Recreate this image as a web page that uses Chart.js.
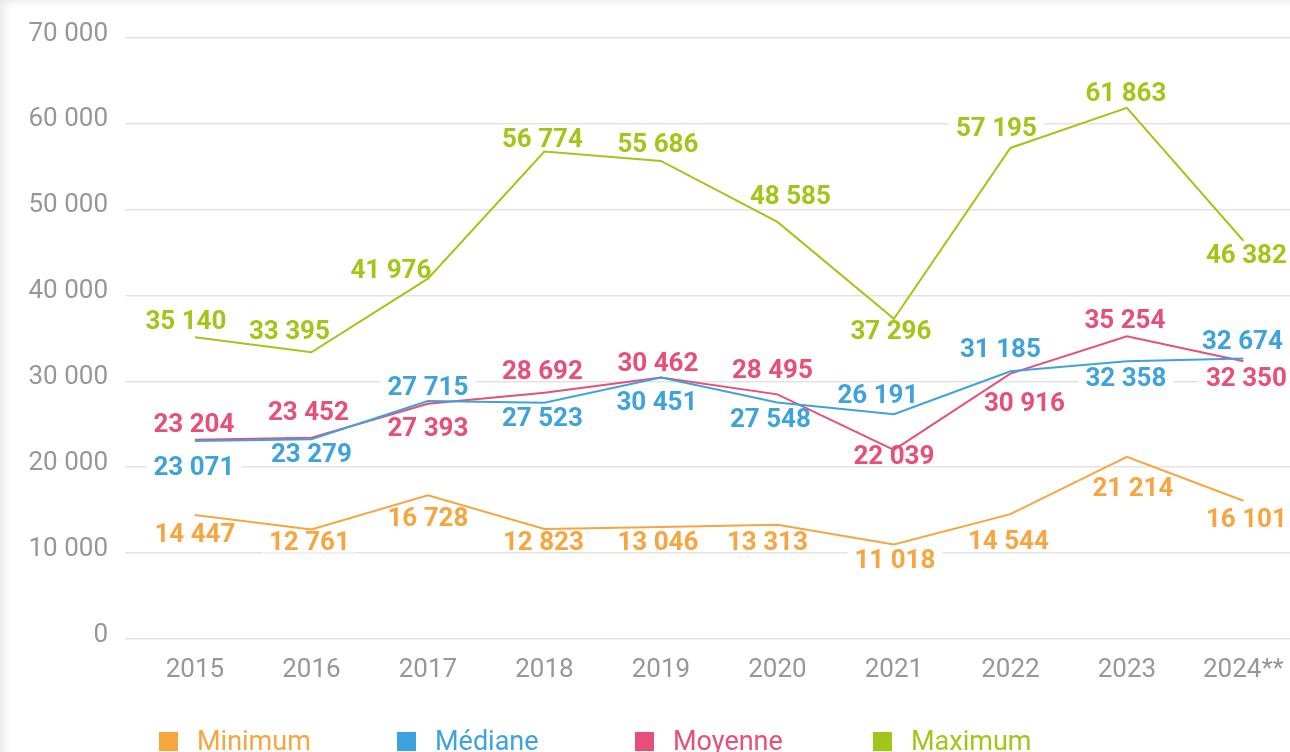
<!DOCTYPE html>
<html>
<head>
<meta charset="utf-8">
<script src="https://cdn.jsdelivr.net/npm/chart.js@4.4.1/dist/chart.umd.min.js"></script>
<style>
  html, body { margin: 0; padding: 0; background: #fff; }
  #wrap { position: relative; width: 1290px; height: 752px; overflow: hidden; }
  #shade { position: absolute; left: 0; top: 0; width: 1290px; height: 752px; pointer-events: none;
           box-shadow: inset 10px 7px 10px -6px rgba(0,0,0,0.10); }
  canvas { display: block; }
</style>
</head>
<body>
<div id="wrap">
<canvas id="c" width="1290" height="752"></canvas>
<div id="shade"></div>
</div>
<script>
// ---- data ----
const categories = ['2015', '2016', '2017', '2018', '2019', '2020', '2021', '2022', '2023', '2024**'];
const seriesNames = ['Minimum', 'Médiane', 'Moyenne', 'Maximum'];
const minimum = [14447, 12761, 16728, 12823, 13046, 13313, 11018, 14544, 21214, 16101];
const mediane = [23071, 23279, 27715, 27523, 30451, 27548, 26191, 31185, 32358, 32674];
const moyenne = [23204, 23452, 27393, 28692, 30462, 28495, 22039, 30916, 35254, 32350];
const maximum = [35140, 33395, 41976, 56774, 55686, 48585, 37296, 57195, 61863, 46382];
const yTickValues = [0, 10000, 20000, 30000, 40000, 50000, 60000, 70000];

// ---- styles ----
const colors = ['#F6A53F', '#3EA3DC', '#E84F78', '#A2C617'];
// label placement relative to each point (pixels)
const labelShift = [
  { dx: [0, -2, 0, -1, -3, -10, 1, -2, 6, 3],      dy: [18, 12, 22, 12, 14, 16, 15, 26, 30, 17] },
  { dx: [-1, 0, 0, -2, -4, -7, -16, -10, -1, -1],  dy: [25, 14, -15, 14, 23, 16, -20, -23, 16, -18] },
  { dx: [-1, -3, 0, -2, -3, -5, 0, 14, -2, 3],     dy: [-17, -27, 23, -23, -15, -25, 5, 28, -17, 16] },
  { dx: [-9, -22, -37, -2, -3, 13, -3, -14, -1, 3], dy: [-17, -22, -10, -14, -18, -27, 11, -21, -16, 13] }
];

const fmt = v => String(v).replace(/\B(?=(\d{3})+(?!\d))/g, ' ');
const allSeries = [minimum, mediane, moyenne, maximum];

Chart.defaults.font.family = 'Roboto';

const LABEL_FONT = 'bold 26px Roboto';

function forEachLabel(chart, cb) {
  chart.data.datasets.forEach((ds, si) => {
    const meta = chart.getDatasetMeta(si);
    meta.data.forEach((pt, i) => {
      const text = fmt(ds.data[i].y);
      const x = pt.x + labelShift[si].dx[i];
      const y = pt.y + labelShift[si].dy[i];
      cb(ds, si, text, x, y);
    });
  });
}

const labelPlugin = {
  id: 'valueLabels',
  beforeDatasetsDraw(chart) {
    const ctx = chart.ctx;
    ctx.save();
    ctx.font = LABEL_FONT;
    ctx.fillStyle = '#ffffff';
    forEachLabel(chart, (ds, si, text, x, y) => {
      const w = ctx.measureText(text).width + 14;
      ctx.fillRect(x - w / 2, y - 11, w, 22);
    });
    ctx.restore();
  },
  afterDatasetsDraw(chart) {
    const ctx = chart.ctx;
    ctx.save();
    ctx.font = LABEL_FONT;
    ctx.textAlign = 'center';
    ctx.textBaseline = 'alphabetic';
    forEachLabel(chart, (ds, si, text, x, y) => {
      ctx.fillStyle = ds.borderColor;
      ctx.fillText(text, x, y + 9);
    });
    ctx.restore();
  }
};

const legendPlugin = {
  id: 'customLegend',
  afterDraw(chart) {
    const ctx = chart.ctx;
    ctx.save();
    ctx.font = '400 27px Roboto';
    ctx.textBaseline = 'alphabetic';
    ctx.textAlign = 'left';
    chart.data.datasets.forEach((ds, i) => {
      const bx = 159 + i * 238;
      ctx.fillStyle = ds.borderColor;
      ctx.fillRect(bx, 732, 19, 19);
      ctx.fillText(ds.label, bx + 38, 750);
    });
    ctx.restore();
  }
};

const datasets = allSeries.map((vals, si) => ({
  label: seriesNames[si],
  data: vals.map((v, i) => ({ x: i, y: v })),
  borderColor: colors[si],
  backgroundColor: colors[si],
  borderWidth: 2,
  pointRadius: 0,
  pointHoverRadius: 0,
  tension: 0,
  fill: false
}));

new Chart(document.getElementById('c'), {
  type: 'line',
  data: { datasets },
  plugins: [labelPlugin, legendPlugin],
  options: {
    responsive: false,
    devicePixelRatio: 1,
    animation: false,
    layout: { padding: { top: 38, right: 0, bottom: 0, left: 0 } },
    plugins: { legend: { display: false }, tooltip: { enabled: false } },
    scales: {
      x: {
        type: 'linear',
        min: -0.6,
        max: 9.4,
        afterBuildTicks: s => { s.ticks = categories.map((_, i) => ({ value: i })); },
        afterFit: s => { s.height = 113; s.paddingLeft = 0; s.paddingRight = 0; },
        grid: { display: false, drawTicks: false },
        border: { display: false },
        ticks: {
          callback: v => categories[v],
          color: '#979797',
          font: { size: 26, family: 'Roboto' },
          padding: 16,
          maxRotation: 0,
          autoSkip: false
        }
      },
      y: {
        min: 0,
        max: 70000,
        afterBuildTicks: s => { s.ticks = yTickValues.map(v => ({ value: v })); },
        afterFit: s => { s.width = 125; },
        grid: { color: '#e3e3e3', lineWidth: 1.6, drawTicks: false },
        border: { display: false },
        ticks: {
          callback: v => fmt(v),
          color: '#979797',
          font: { size: 26, family: 'Roboto' },
          padding: 17,
          labelOffset: -4
        }
      }
    }
  }
});
</script>
</body>
</html>
